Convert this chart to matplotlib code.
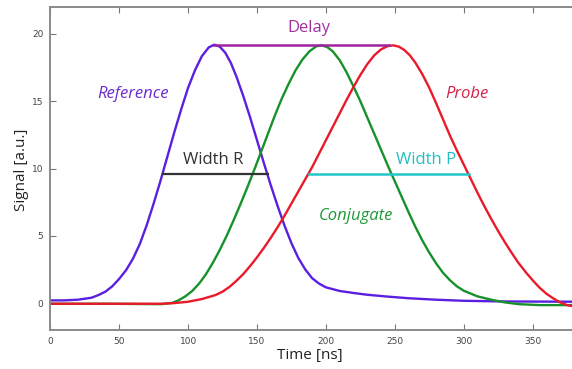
import matplotlib
matplotlib.use("Agg")
import matplotlib.pyplot as plt

# Pulse traces (time in ns, signal in a.u.)
ref_t = [0, 10, 20, 30, 35, 40, 45, 50, 55, 60, 65, 70, 75, 80, 85, 90, 95, 100, 105, 110,
         115, 119, 123, 127, 131, 135, 140, 145, 150, 155, 160, 165, 170, 175, 180, 185, 190,
         195, 200, 210, 220, 230, 245, 260, 280, 300, 330, 385]
ref_y = [0.2, 0.2, 0.25, 0.4, 0.6, 0.85, 1.25, 1.8, 2.45, 3.3, 4.4, 5.8, 7.4, 9.1, 10.9, 12.7,
         14.4, 16.0, 17.3, 18.35, 19.0, 19.2, 19.05, 18.6, 17.85, 16.85, 15.4, 13.8, 12.1,
         10.4, 8.75, 7.2, 5.75, 4.45, 3.35, 2.5, 1.85, 1.45, 1.17, 0.9, 0.75, 0.62, 0.48, 0.36,
         0.25, 0.17, 0.12, 0.1]

conj_t = [0, 40, 80, 88, 93, 98, 103, 108, 113, 118, 123, 128, 133, 138, 143, 148, 153, 158,
          163, 168, 173, 178, 183, 188, 193, 197, 201, 205, 210, 215, 220, 225, 230, 235, 240,
          245, 250, 255, 260, 265, 270, 275, 280, 285, 290, 295, 300, 310, 320, 330, 340, 355,
          385]
conj_y = [-0.05, -0.05, -0.08, 0.0, 0.2, 0.5, 0.9, 1.45, 2.15, 3.0, 3.95, 5.0, 6.15, 7.35,
          8.6, 9.9, 11.25, 12.6, 13.95, 15.2, 16.3, 17.3, 18.1, 18.7, 19.08, 19.15, 19.02,
          18.7, 18.05, 17.15, 16.1, 15.0, 13.8, 12.6, 11.4, 10.2, 9.05, 7.9, 6.75, 5.65, 4.65,
          3.75, 2.95, 2.25, 1.7, 1.25, 0.92, 0.5, 0.25, 0.05, -0.08, -0.15, -0.15]

probe_t = [0, 80, 90, 100, 110, 120, 125, 130, 135, 140, 145, 150, 155, 160, 165, 170, 175,
           180, 185, 190, 195, 200, 205, 210, 215, 220, 225, 230, 235, 240, 245, 249, 253, 257,
           261, 265, 270, 275, 280, 285, 290, 295, 300, 305, 310, 315, 320, 325, 330, 335, 340,
           345, 350, 355, 360, 365, 370, 375, 380, 385]
probe_y = [-0.05, -0.05, 0.0, 0.1, 0.3, 0.6, 0.85, 1.2, 1.65, 2.15, 2.75, 3.4, 4.1, 4.85,
           5.65, 6.5, 7.4, 8.3, 9.2, 10.1, 11.1, 12.1, 13.1, 14.1, 15.1, 16.05, 16.95, 17.75,
           18.4, 18.85, 19.1, 19.15, 19.05, 18.8, 18.4, 17.85, 17.0, 16.0, 14.85, 13.65, 12.45,
           11.35, 10.3, 9.25, 8.2, 7.2, 6.25, 5.35, 4.5, 3.7, 2.95, 2.3, 1.7, 1.15, 0.7, 0.35,
           0.05, -0.15, -0.25, -0.3]

# Annotation markers: delay between peaks and full widths at half maximum
delay_t = [119, 246]
delay_y = 19.2
width_r_t = [81.5, 158]
width_p_t = [188, 303.5]
half_y = 9.6

x_ticks = [0, 50, 100, 150, 200, 250, 300, 350]
y_ticks = [0, 5, 10, 15, 20]

W, H = 572, 369
fig = plt.figure(figsize=(W / 100, H / 100), dpi=100)
left_px, bottom_px, top_px = 50.3, 39, 7
ax_w_px = 400 * 1.378
ax = fig.add_axes([left_px / W, bottom_px / H, ax_w_px / W, (H - bottom_px - top_px) / H])

lw = 1.7
ax.plot(ref_t, ref_y, color="#5a1fe0", lw=lw, solid_joinstyle="round")
ax.plot(conj_t, conj_y, color="#17912a", lw=lw, solid_joinstyle="round")
ax.plot(probe_t, probe_y, color="#ea1a2a", lw=lw, solid_joinstyle="round")

ax.plot(delay_t, [delay_y, delay_y], color="#a0229e", lw=1.8)
ax.plot(width_r_t, [half_y, half_y], color="#333333", lw=1.6)
ax.plot(width_p_t, [half_y, half_y], color="#22c6c6", lw=1.8)

font = "Open Sans"
ax.text(188, 20.45, "Delay", color="#a0309f", fontsize=12, family=font, ha="center", va="center")
ax.text(60, 15.5, "Reference", color="#6a2bd2", fontsize=12, family=font, style="italic",
        ha="center", va="center")
ax.text(302, 15.5, "Probe", color="#dc1f48", fontsize=12, family=font, style="italic",
        ha="center", va="center")
ax.text(118.5, 10.6, "Width R", color="#333333", fontsize=12, family=font, ha="center", va="center")
ax.text(272.7, 10.6, "Width P", color="#22c0c4", fontsize=12, family=font, ha="center", va="center")
ax.text(222, 6.5, "Conjugate", color="#1e9a3a", fontsize=12, family=font, style="italic",
        ha="center", va="center")

ax.set_xlim(0, 400)
ax.set_ylim(-2, 22)
ax.set_xticks(x_ticks)
ax.set_yticks(y_ticks)
ax.tick_params(direction="in", length=4, width=0.8, color="#777777", labelsize=6.5,
               labelcolor="#444444", top=True, right=True, pad=5)
for s in ax.spines.values():
    s.set_color("#8a8a8a")
    s.set_linewidth(1.4)

fig.text(310 / W, 1 - 355 / H, "Time [ns]", fontsize=11, family=font, color="#222222",
         ha="center", va="center")
fig.text(22 / W, 1 - 170 / H, "Signal [a.u.]", fontsize=11, family=font, color="#222222",
         ha="center", va="center", rotation=90)

fig.savefig("out.png", dpi=100)
